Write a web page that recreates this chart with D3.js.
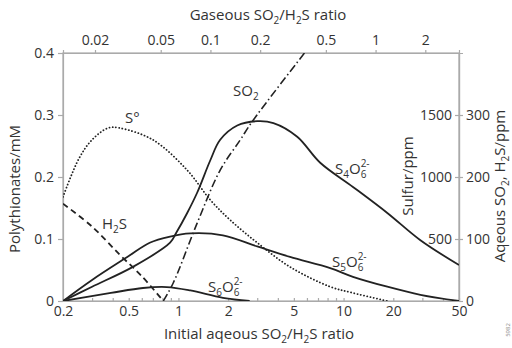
<!DOCTYPE html>
<head>
    <title>Polythionates vs SO2/H2S ratio</title>
    <script src="https://d3js.org/d3.v7.min.js"></script>
    <style>
        body { margin: 0; background: #fff; }
        text { font-family: "Open Sans", "Noto Sans", sans-serif; fill: #333; }
        .axis path, .axis line { stroke: #aaa; stroke-width: 1.2; }
        .axis text { font-size: 14px; fill: #333; }
        .lbl { font-size: 15px; }
    </style>
</head>
<body>
<div id="home"></div>
<script>
// initial aqueous SO2/H2S ratio (x) and read values
const s4Ratio = [0.2, 0.3, 0.53, 0.89, 0.97, 1.13, 1.3, 1.56, 1.79, 2.27, 3.0, 3.76, 5.24, 7.22, 11.4, 18.4, 29.2, 50];
const s4Conc  = [0, 0.023, 0.055, 0.094, 0.11, 0.142, 0.175, 0.227, 0.26, 0.283, 0.29, 0.287, 0.265, 0.223, 0.184, 0.142, 0.098, 0.058];

const s5Ratio = [0.2, 0.3, 0.49, 0.67, 0.89, 1.18, 1.86, 3.0, 4.74, 8.3, 11.4, 18.4, 29.2, 50];
const s5Conc  = [0, 0.034, 0.071, 0.094, 0.104, 0.109, 0.106, 0.088, 0.071, 0.053, 0.039, 0.023, 0.010, 0];

const s6Ratio = [0.2, 0.39, 0.61, 0.85, 1.18, 1.86, 2.7];
const s6Conc  = [0, 0.013, 0.021, 0.0225, 0.017, 0.005, 0];

// elemental sulfur, ppm (Sulfur/ppm axis)
const sulfurRatio = [0.2, 0.25, 0.3, 0.375, 0.44, 0.7, 1.13, 1.56, 2.05, 3.0, 4.74, 8.3, 11.4, 18.4];
const sulfurPpm   = [840, 1150, 1300, 1395, 1395, 1300, 1055, 815, 655, 470, 275, 115, 65, 0];

// aqueous H2S and SO2, ppm
const h2sRatio = [0.2, 0.3, 0.44, 0.6, 0.81];
const h2sPpm   = [157, 120, 75, 40, 0];
const so2Ratio = [0.81, 0.93, 1.3, 1.79, 2.37, 2.79, 5.8];
const so2Ppm   = [0, 29, 126, 211, 260, 289, 400];

// ticks
const bottomTicks = [0.2, 0.5, 1, 2, 5, 10, 20, 50];
const bottomMinor = [0.3, 0.4, 0.6, 0.7, 0.8, 0.9, 3, 4, 6, 7, 8, 9, 30, 40];
const topTicks = [0.02, 0.05, 0.1, 0.2, 0.5, 1, 2];
const leftTicks = [0, 0.1, 0.2, 0.3, 0.4];
const sulfurTicks = [500, 1000, 1500];
const aqTicks = [0, 100, 200, 300];

const w = 512, h = 348;
const L = 63, R = 459, T = 53, B = 301;

const svg = d3.select("#home").append("svg").attr("width", w).attr("height", h);

const x = d3.scaleLog().domain([0.2, 50]).range([L, R]);
const xGas = d3.scaleLog().domain([0.0128, 3.2]).range([L, R]);
const yMM = d3.scaleLinear().domain([0, 0.4]).range([B, T]);
const ySul = d3.scaleLinear().domain([0, 2000]).range([B, T]);
const yAq = d3.scaleLinear().domain([0, 400]).range([B, T]);

// frame
svg.append("rect").attr("x", L).attr("y", T).attr("width", R - L).attr("height", B - T)
   .style("fill", "none").style("stroke", "#aaa").style("stroke-width", 1.2);

// bottom axis
svg.append("g").attr("class", "axis").attr("transform", `translate(0,${B})`)
   .call(d3.axisBottom(x).tickValues(bottomTicks.concat(bottomMinor))
        .tickSizeInner(-3).tickSizeOuter(0).tickPadding(5)
        .tickFormat(d => bottomTicks.includes(d) ? d : ""));

// top axis
svg.append("g").attr("class", "axis").attr("transform", `translate(0,${T})`)
   .call(d3.axisTop(xGas).tickValues(topTicks).tickSize(3).tickPadding(5).tickFormat(d => d));

// left axis
svg.append("g").attr("class", "axis").attr("transform", `translate(${L},0)`)
   .call(d3.axisLeft(yMM).tickValues(leftTicks).tickSize(5).tickPadding(4).tickFormat(d => d));

// right axes
svg.append("g").attr("class", "axis").attr("transform", `translate(${R},0)`)
   .call(d3.axisLeft(ySul).tickValues(sulfurTicks).tickSize(4).tickPadding(3).tickFormat(d => d));
svg.append("g").attr("class", "axis").attr("transform", `translate(${R},0)`)
   .call(d3.axisRight(yAq).tickValues(aqTicks).tickSize(4).tickPadding(3).tickFormat(d => d));

// chemistry labels with sub/superscripts
function chem(parent, xp, yp, parts, cls) {
    const t = parent.append("text").attr("x", xp).attr("y", yp).attr("class", cls || "lbl");
    let shift = 0;
    parts.forEach(([s, kind]) => {
        const ts = t.append("tspan").text(s);
        const target = kind === "sub" ? 4 : kind === "sup" ? -7 : 0;
        ts.attr("dy", target - shift);
        shift = target;
        if (kind !== "n") ts.attr("font-size", 10);
        if (kind === "sup") ts.attr("dx", -5.7);
    });
    return t;
}

// axis titles
chem(svg, 268, 20, [["Gaseous SO", "n"], ["2", "sub"], ["/H", "n"], ["2", "sub"], ["S ratio", "n"]])
    .attr("text-anchor", "middle");
chem(svg, 259, 339, [["Initial aqeous SO", "n"], ["2", "sub"], ["/H", "n"], ["2", "sub"], ["S ratio", "n"]])
    .attr("text-anchor", "middle");
svg.append("text").attr("class", "lbl").attr("transform", "rotate(-90)")
   .attr("x", -189).attr("y", 20).attr("text-anchor", "middle").text("Polythionates/mM");
svg.append("text").attr("class", "lbl").attr("transform", "rotate(-90)")
   .attr("x", -176).attr("y", 413).attr("text-anchor", "middle").text("Sulfur/ppm");
chem(svg, -186, 505, [["Aqeous SO", "n"], ["2", "sub"], [", H", "n"], ["2", "sub"], ["S/ppm", "n"]])
    .attr("transform", "rotate(-90)").attr("text-anchor", "middle");
svg.append("text").attr("transform", "rotate(-90)").attr("x", -330).attr("y", 510)
   .attr("text-anchor", "middle").style("font-size", "6px").style("fill", "#888").text("5982");

// curves
svg.append("clipPath").attr("id", "plot").append("rect")
   .attr("x", L).attr("y", T).attr("width", R - L).attr("height", B - T);

function curve(ratios, vals, yScale, dash, width) {
    const pts = ratios.map((r, i) => [x(r), yScale(vals[i])]);
    svg.append("path")
       .attr("d", d3.line().curve(d3.curveCatmullRom.alpha(0.5))(pts))
       .attr("clip-path", "url(#plot)")
       .style("fill", "none").style("stroke", "#222")
       .style("stroke-width", width || 1.8)
       .style("stroke-dasharray", dash || null)
       .style("stroke-linecap", dash === "0.1,3.2" ? "round" : "butt");
}

curve(sulfurRatio, sulfurPpm, ySul, "0.1,3.2", 1.8);
curve(h2sRatio, h2sPpm, yAq, "6,4", 1.8);
curve(so2Ratio, so2Ppm, yAq, "8,3,1.5,3", 1.6);
curve(s6Ratio, s6Conc, yMM);
curve(s5Ratio, s5Conc, yMM);
curve(s4Ratio, s4Conc, yMM);

// curve labels
chem(svg, 233, 96, [["SO", "n"], ["2", "sub"]]);
chem(svg, 125, 123, [["S\u00B0", "n"]]);
chem(svg, 102, 229, [["H", "n"], ["2", "sub"], ["S", "n"]]);
chem(svg, 335, 174, [["S", "n"], ["4", "sub"], ["O", "n"], ["6", "sub"], ["2-", "sup"]]);
chem(svg, 332, 267, [["S", "n"], ["5", "sub"], ["O", "n"], ["6", "sub"], ["2-", "sup"]]);
chem(svg, 208, 292, [["S", "n"], ["6", "sub"], ["O", "n"], ["6", "sub"], ["2-", "sup"]]);
</script>
</body>
